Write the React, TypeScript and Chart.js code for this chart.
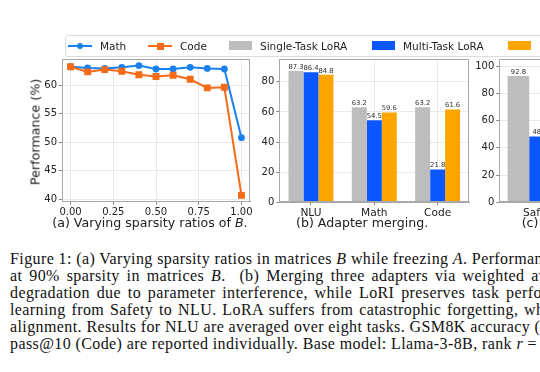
import React, { useEffect, useRef } from 'react';
import { Chart, registerables } from 'chart.js';
Chart.register(...registerables);

// ---------- data ----------
const sparsity = [0, 0.1, 0.2, 0.3, 0.4, 0.5, 0.6, 0.7, 0.8, 0.9, 1.0];
const mathPerf = [63.2, 63.0, 62.9, 63.1, 63.4, 62.8, 62.8, 63.1, 62.9, 62.8, 50.8];
const codePerf = [63.2, 62.3, 62.7, 62.4, 61.8, 61.5, 61.7, 61.0, 59.5, 59.6, 40.7];
const sparsityTicks = [0, 0.25, 0.5, 0.75, 1.0];
const perfTicks = [40, 45, 50, 55, 60];

const mergeTasks = ['NLU', 'Math', 'Code'];
const mergeSingle = [87.3, 63.2, 63.2];
const mergeMulti = [86.4, 54.5, 21.8];
const mergeLoRI = [84.8, 59.6, 61.6];
const mergeTicks = [0, 20, 40, 60, 80];

const clTasks = ['Safety'];
const clSingle = [92.8];
const clMulti = [48.4];
const clLoRI: (number | null)[] = [null];
const clTicks = [0, 20, 40, 60, 80, 100];

const seriesNames = ['Math', 'Code', 'Single-Task LoRA', 'Multi-Task LoRA', 'LoRI'];

// ---------- style ----------
const MATH = '#1a80ee';
const CODE = '#f66b18';
const GRAY = '#bdbdbd';
const BLUE = '#0a57ff';
const ORANGE = '#ffa500';
const FONT = '"DejaVu Sans", sans-serif';
const tickFont = { family: FONT, size: 10 };
const GRID = '#e4e4e4';
const SPINE = '#a8a8a8';

const framePlugin = {
  id: 'frame',
  afterDraw(chart: any) {
    const { ctx, chartArea } = chart;
    const l = Math.round(chartArea.left) + 0.5;
    const t = Math.round(chartArea.top) + 0.5;
    const r = Math.round(chartArea.right) - 0.5;
    const b = Math.round(chartArea.bottom) - 0.5;
    ctx.save();
    ctx.strokeStyle = SPINE;
    ctx.lineWidth = 1;
    ctx.strokeRect(l, t, r - l, b - t);
    ctx.restore();
  },
};

const valueLabelPlugin = {
  id: 'valueLabels',
  afterDatasetsDraw(chart: any) {
    const ctx = chart.ctx;
    ctx.save();
    ctx.font = `6.8px ${FONT}`;
    ctx.fillStyle = '#333';
    ctx.textAlign = 'center';
    ctx.textBaseline = 'bottom';
    chart.data.datasets.forEach((ds: any, i: number) => {
      const meta = chart.getDatasetMeta(i);
      meta.data.forEach((bar: any, j: number) => {
        const v = ds.data[j];
        if (v == null) return;
        ctx.fillText(Number(v).toFixed(1), bar.x, bar.y - 0.5);
      });
    });
    ctx.restore();
  },
};

function yScale(min: number, max: number, ticks: number[], width: number) {
  return {
    min,
    max,
    afterBuildTicks: (s: any) => {
      s.ticks = ticks.map((v) => ({ value: v }));
    },
    afterFit: (s: any) => {
      s.width = width;
    },
    grid: { color: GRID, tickColor: '#666', tickLength: 3, lineWidth: 0.8 },
    border: { color: SPINE },
    ticks: { font: tickFont, color: '#222', padding: 2 },
  };
}

function barDataset(label: string, data: (number | null)[], color: string, catPct: number) {
  return {
    label,
    data,
    backgroundColor: color,
    borderWidth: 0,
    categoryPercentage: catPct,
    barPercentage: 1.0,
  };
}

function barXScale(height: number) {
  return {
    afterFit: (s: any) => {
      s.height = height;
    },
    grid: { color: GRID, tickColor: '#666', tickLength: 3, lineWidth: 0.8, offset: false },
    border: { color: SPINE },
    ticks: { font: { family: FONT, size: 10.6 }, color: '#222', padding: 2 },
  };
}

const configA = () => ({
  type: 'line',
  data: {
    datasets: [
      {
        label: seriesNames[0],
        data: sparsity.map((x, i) => ({ x, y: mathPerf[i] })),
        borderColor: MATH,
        backgroundColor: MATH,
        borderWidth: 2,
        pointStyle: 'circle',
        pointRadius: 3.4,
        pointBorderWidth: 0,
        order: 1,
      },
      {
        label: seriesNames[1],
        data: sparsity.map((x, i) => ({ x, y: codePerf[i] })),
        borderColor: CODE,
        backgroundColor: CODE,
        borderWidth: 2,
        pointStyle: 'rect',
        pointRadius: 4.9,
        pointBorderWidth: 0,
        order: 0,
      },
    ],
  },
  options: {
    animation: false,
    responsive: false,
    layout: { padding: { left: 0, top: 9.3, right: 20, bottom: 0 } },
    plugins: { legend: { display: false }, tooltip: { enabled: false } },
    scales: {
      x: {
        type: 'linear',
        min: -0.05,
        max: 1.05,
        afterBuildTicks: (s: any) => {
          s.ticks = sparsityTicks.map((v) => ({ value: v }));
        },
        afterFit: (s: any) => {
          s.height = 28.3;
        },
        grid: { color: GRID, tickColor: '#666', tickLength: 3, lineWidth: 0.8 },
        border: { color: SPINE },
        ticks: {
          font: tickFont,
          color: '#222',
          padding: 2,
          maxRotation: 0,
          callback: (v: any) => Number(v).toFixed(2),
        },
      },
      y: yScale(39.6, 64.5, perfTicks, 62),
    },
  },
  plugins: [framePlugin],
});

const configB = () => ({
  type: 'bar',
  data: {
    labels: mergeTasks,
    datasets: [
      barDataset(seriesNames[2], mergeSingle, GRAY, 0.71),
      barDataset(seriesNames[3], mergeMulti, BLUE, 0.71),
      barDataset(seriesNames[4], mergeLoRI, ORANGE, 0.71),
    ],
  },
  options: {
    animation: false,
    responsive: false,
    layout: { padding: { left: 0, top: 9.3, right: 20.7, bottom: 0 } },
    plugins: { legend: { display: false }, tooltip: { enabled: false } },
    scales: {
      x: barXScale(27.7),
      y: yScale(0, 95, mergeTicks, 19.3),
    },
  },
  plugins: [framePlugin, valueLabelPlugin],
});

const configC = () => ({
  type: 'bar',
  data: {
    labels: clTasks,
    datasets: [
      barDataset(seriesNames[2], clSingle, GRAY, 0.796),
      barDataset(seriesNames[3], clMulti, BLUE, 0.796),
      barDataset(seriesNames[4], clLoRI, ORANGE, 0.796),
    ],
  },
  options: {
    animation: false,
    responsive: false,
    layout: { padding: { left: 0, top: 9.3, right: 44.3, bottom: 0 } },
    plugins: { legend: { display: false }, tooltip: { enabled: false } },
    scales: {
      x: barXScale(27.7),
      y: yScale(0, 105, clTicks, 24.3),
    },
  },
  plugins: [framePlugin, valueLabelPlugin],
});

function ChartCanvas(props: { left: number; top: number; width: number; height: number; config: () => any }) {
  const ref = useRef<HTMLCanvasElement>(null);
  useEffect(() => {
    const chart = new Chart(ref.current as HTMLCanvasElement, props.config());
    return () => chart.destroy();
  }, []);
  return (
    <canvas
      ref={ref}
      width={props.width}
      height={props.height}
      style={{ position: 'absolute', left: props.left, top: props.top, width: props.width, height: props.height }}
    />
  );
}

const abs = (left: number, top: number, extra: React.CSSProperties = {}): React.CSSProperties => ({
  position: 'absolute',
  left,
  top,
  ...extra,
});

function LineSwatch({ left, color, square }: { left: number; color: string; square?: boolean }) {
  return (
    <>
      <div style={abs(left, 45, { width: 24, height: 2, background: color })} />
      <div
        style={abs(left + 12 - (square ? 3.5 : 3), 46 - (square ? 3.5 : 3), {
          width: square ? 7 : 6,
          height: square ? 7 : 6,
          borderRadius: square ? 0 : '50%',
          background: color,
        })}
      />
    </>
  );
}

function Patch({ left, color }: { left: number; color: string }) {
  return <div style={abs(left, 41, { width: 23, height: 9, background: color })} />;
}

function LegendText({ left, text }: { left: number; text: string }) {
  return (
    <div style={abs(left, 39.5, { font: `10.5px ${FONT}`, color: '#222', whiteSpace: 'nowrap', lineHeight: '13px' })}>
      {text}
    </div>
  );
}

const captionLines: { text: React.ReactNode; ws: number }[] = [
  { text: <>Figure 1: (a) Varying sparsity ratios in matrices <i>B</i> while freezing <i>A</i>. Performance</>, ws: 0 },
  { text: <>at 90% sparsity in matrices <i>B</i>.&nbsp; (b) Merging three adapters via weighted averaging</>, ws: 2.5 },
  { text: <>degradation due to parameter interference, while LoRI preserves task performance</>, ws: 2.4 },
  { text: <>learning from Safety to NLU. LoRA suffers from catastrophic forgetting, while</>, ws: 1.4 },
  { text: <>alignment. Results for NLU are averaged over eight tasks. GSM8K accuracy (Math)</>, ws: 0 },
  { text: <>pass@10 (Code) are reported individually. Base model: Llama-3-8B, rank <i>r</i> =</>, ws: 0 },
];

const subStyle: React.CSSProperties = {
  font: `12.6px ${FONT}`,
  color: '#222',
  whiteSpace: 'nowrap',
  lineHeight: '15px',
};

export default function App() {
  return (
    <div
      style={{
        position: 'fixed',
        left: 0,
        top: 0,
        width: 540,
        height: 372,
        overflow: 'hidden',
        background: '#fff',
      }}
    >
      <ChartCanvas left={0} top={50} width={270} height={180} config={configA} />
      <ChartCanvas left={260} top={50} width={230} height={180} config={configB} />
      <ChartCanvas left={475} top={50} width={150} height={180} config={configC} />

      {/* legend */}
      <div
        style={abs(65, 35, {
          width: 520,
          height: 22,
          boxSizing: 'border-box',
          border: '1px solid #dcdcdc',
          borderRadius: 3,
          background: 'rgba(255,255,255,0.9)',
        })}
      />
      <LineSwatch left={68} color={MATH} />
      <LegendText left={100} text={seriesNames[0]} />
      <LineSwatch left={148} color={CODE} square />
      <LegendText left={180} text={seriesNames[1]} />
      <Patch left={229} color={GRAY} />
      <LegendText left={260} text={seriesNames[2]} />
      <Patch left={372} color={BLUE} />
      <LegendText left={403} text={seriesNames[3]} />
      <Patch left={508} color={ORANGE} />
      <LegendText left={539} text={seriesNames[4]} />

      {/* y axis title of (a) */}
      <div
        style={abs(35, 131.7, {
          transform: 'translate(-50%, -50%) rotate(-90deg)',
          font: `12.7px ${FONT}`,
          color: '#222',
          whiteSpace: 'nowrap',
        })}
      >
        Performance (%)
      </div>

      {/* sub-captions */}
      <div style={abs(52.3, 215, subStyle)}>
        (a) Varying sparsity ratios of <i>B</i>.
      </div>
      <div style={abs(296, 215, subStyle)}>(b) Adapter merging.</div>
      <div style={abs(521.7, 215, subStyle)}>(c)</div>

      {/* caption */}
      <div
        style={abs(10, 249.7, {
          font: '16px "Liberation Serif", serif',
          letterSpacing: '0.4px',
          lineHeight: '17.1px',
          color: '#111',
          whiteSpace: 'nowrap',
        })}
      >
        {captionLines.map((l, i) => (
          <div key={i} style={{ wordSpacing: `${l.ws}px` }}>
            {l.text}
          </div>
        ))}
      </div>
    </div>
  );
}
